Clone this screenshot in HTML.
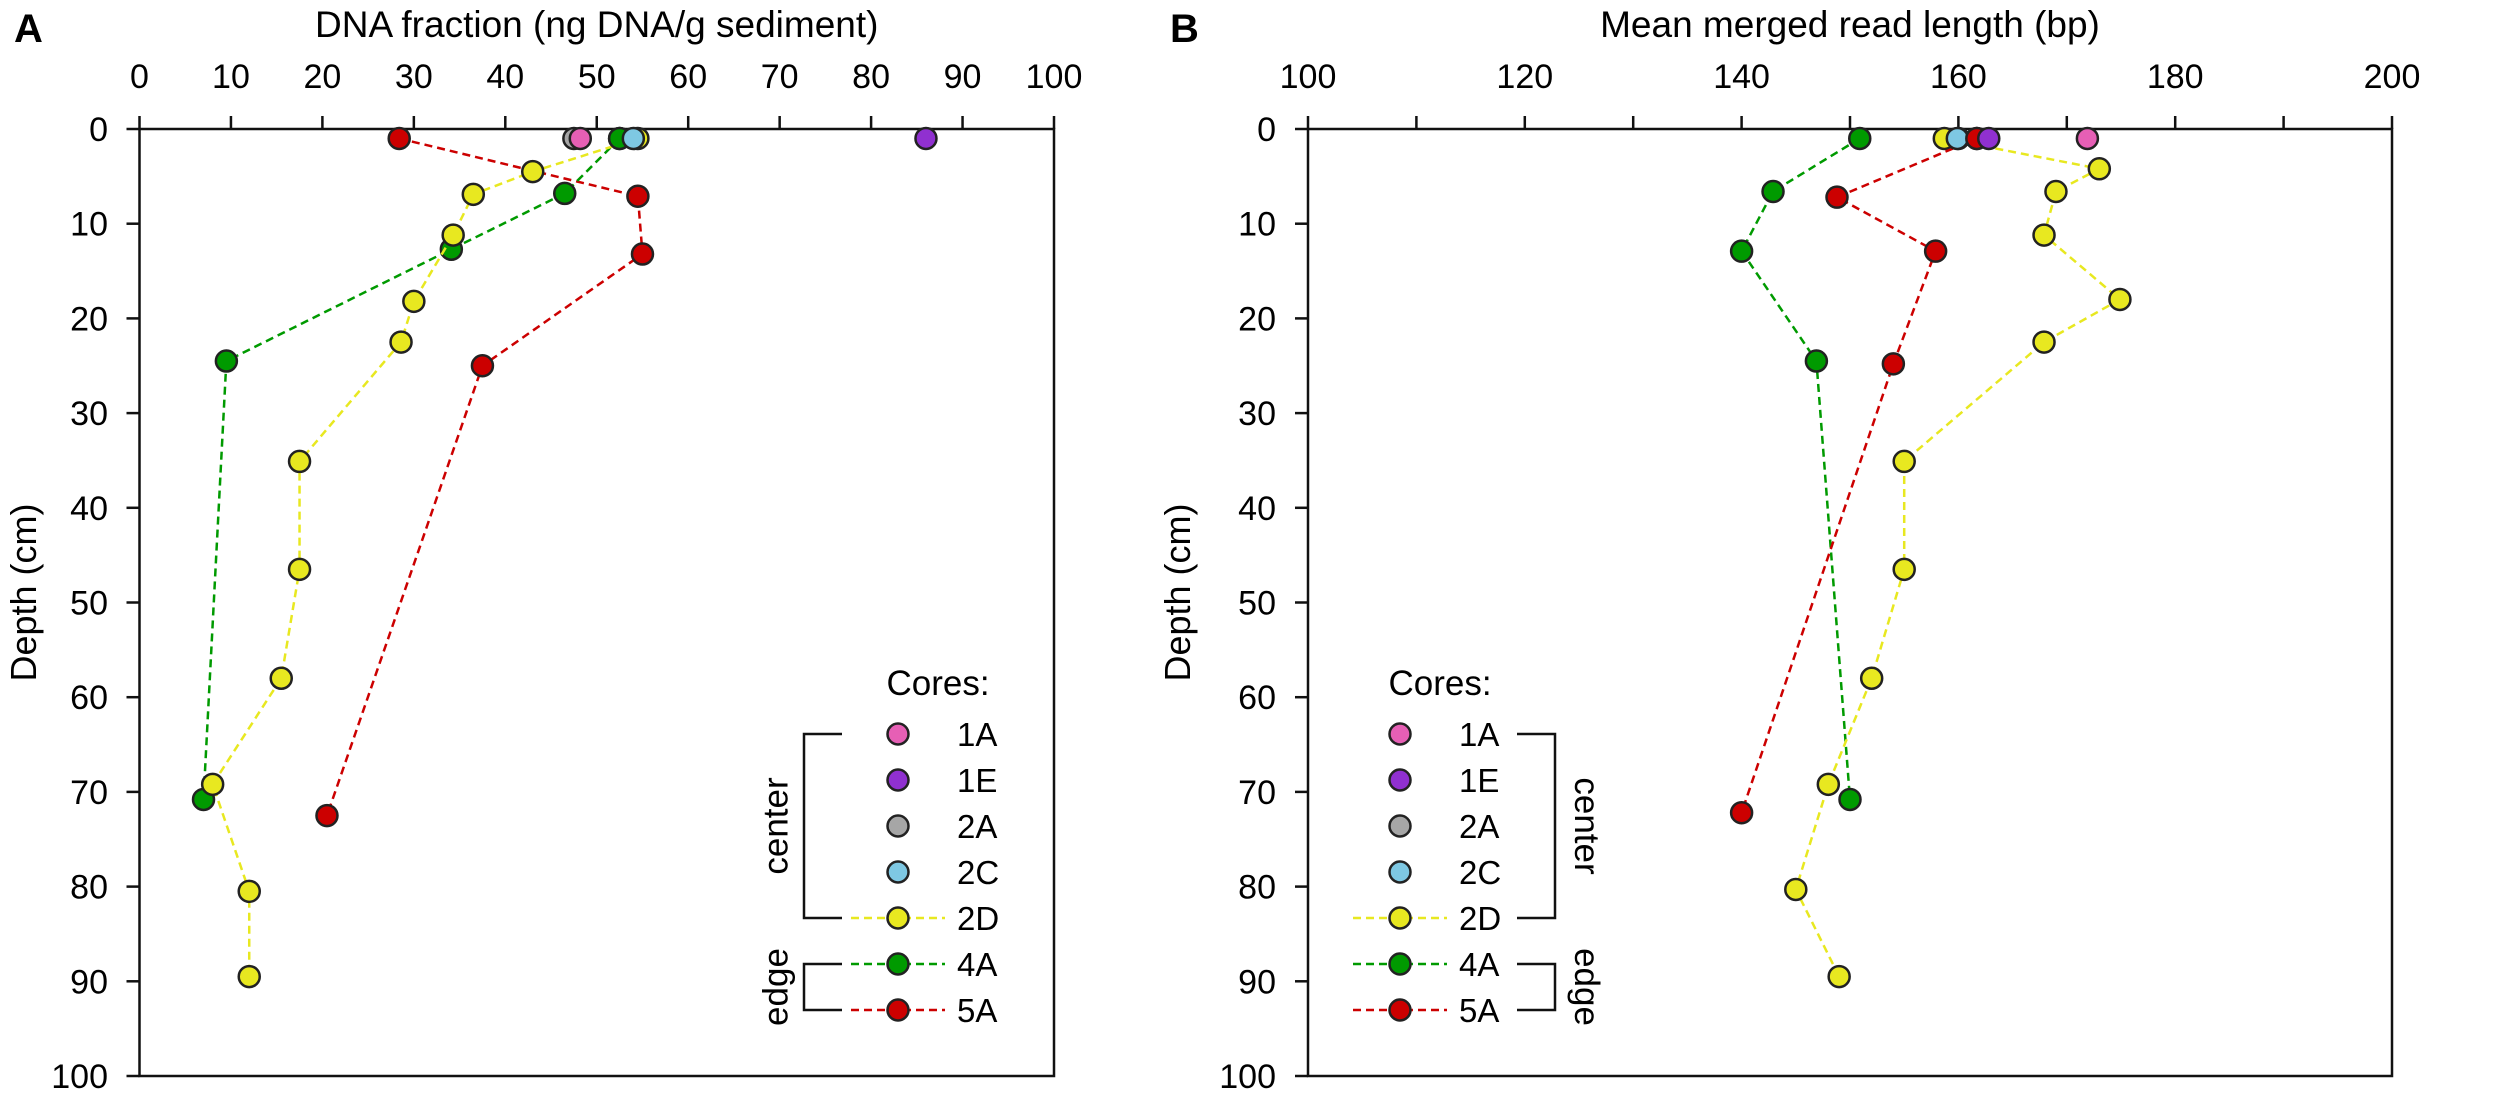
<!DOCTYPE html>
<html><head><meta charset="utf-8"><style>
html,body{margin:0;padding:0;background:#fff;}
svg{display:block;font-family:"Liberation Sans",sans-serif;}
</style></head><body>
<svg id="chart" width="2500" height="1095" viewBox="0 0 2500 1095" xmlns="http://www.w3.org/2000/svg"></svg>
<script>
// ---- data ----
const xTicksA = [0,10,20,30,40,50,60,70,80,90,100];
const xTicksB = [100,120,140,160,180,200];
const yTicks = [0,10,20,30,40,50,60,70,80,90,100];
const coreNames = ["1A","1E","2A","2C","2D","4A","5A"];
const coreColors = ["#e65fb5","#9030d0","#a6a6a6","#7ec8e3","#e8e820","#009a00","#cc0000"];
// Panel A: DNA fraction
const a1A_x=[48.2], a1A_d=[1];
const a1E_x=[86], a1E_d=[1];
const a2A_x=[47.5], a2A_d=[1];
const a2C_x=[54], a2C_d=[1];
const a2D_x=[54.5,43,36.5,34.3,30,28.6,17.5,17.5,15.5,8,12,12];
const a2D_d=[1,4.5,6.9,11.2,18.2,22.5,35.1,46.5,58,69.2,80.5,89.5];
const a4A_x=[52.5,46.5,34.1,9.5,7];
const a4A_d=[1,6.8,12.7,24.5,70.8];
const a5A_x=[28.4,54.5,55,37.5,20.5];
const a5A_d=[1,7.1,13.2,25,72.5];
// Panel B: mean merged read length
const b1A_x=[171.9], b1A_d=[1];
const b1E_x=[162.8], b1E_d=[1];
const b2A_x=[160], b2A_d=[1];
const b2C_x=[159.9], b2C_d=[1];
const b2D_x=[158.7,173,169,167.9,174.9,167.9,155,155,152,148,145,149];
const b2D_d=[1,4.2,6.6,11.2,18,22.5,35.1,46.5,58,69.2,80.3,89.5];
const b4A_x=[150.9,142.9,140,146.9,150];
const b4A_d=[1,6.6,12.9,24.5,70.8];
const b5A_x=[161.7,148.8,157.9,154,140];
const b5A_d=[1,7.2,12.9,24.8,72.2];

const NS="http://www.w3.org/2000/svg";
const svg=document.getElementById('chart');
function mk(tag,attrs,parent){const e=document.createElementNS(NS,tag);for(const k in attrs)e.setAttribute(k,attrs[k]);(parent||svg).appendChild(e);return e;}
function txt(s,attrs,parent){const e=mk('text',attrs,parent);e.textContent=s;return e;}

const Y0=129,Y1=1076;
function yS(d){return Y0+(d-0)/100*(Y1-Y0);}

function panel(id,left,right,xmin,xmax,ticks,minorStep,title,letter,letterX,ylabX,depthX){
  const xS=v=>left+(v-xmin)/(xmax-xmin)*(right-left);
  const g=mk('g',{});
  
  
  const frame=mk('rect',{x:left,y:Y0,width:right-left,height:Y1-Y0,fill:'none',stroke:'#111','stroke-width':2.5},g);
  
  
  for(let v=xmin; v<=xmax+1e-9; v+=minorStep){
    const t=mk('line',{x1:xS(v),x2:xS(v),y1:Y0,y2:Y0-13,stroke:'#111','stroke-width':2.5},g);
    
    
  }
  ticks.forEach(v=>{
    const l=txt(String(v),{x:xS(v),y:88,'font-size':34,'text-anchor':'middle',fill:'#000'},g);
    
    
  });
  yTicks.forEach(v=>{
    const t=mk('line',{x1:left-13,x2:left,y1:yS(v),y2:yS(v),stroke:'#111','stroke-width':2.5},g);
    
    
    const l=txt(String(v),{x:ylabX,y:yS(v)+12,'font-size':34,'text-anchor':'end',fill:'#000'},g);
    
    
  });
  const tt=txt(title,{x:(left+right)/2,y:37,'font-size':37,'text-anchor':'middle',fill:'#000'},g);
  
  
  const yt=txt('Depth (cm)',{x:0,y:0,'font-size':36,'text-anchor':'middle',fill:'#000',transform:`translate(${depthX},${(Y0+Y1)/2-10}) rotate(-90)`},g);
  
  
  const pl=txt(letter,{x:letterX,y:42,'font-size':40,'font-weight':'bold',fill:'#000'},g);
  
  
  return {g,xS};
}
function series(p,xs,ds,color,name,line){
  const sg=mk('g',{},p.g);
  
  
  if(line){
    const pts=xs.map((v,i)=>p.xS(v)+','+yS(ds[i])).join(' ');
    const pl=mk('polyline',{points:pts,fill:'none',stroke:color,'stroke-width':2.5,'stroke-dasharray':'8,5'},sg);
    
    
  }
  xs.forEach((v,i)=>{
    const c=mk('circle',{cx:p.xS(v),cy:yS(ds[i]),r:10.5,fill:color,stroke:'#222','stroke-width':2.5},sg);
    
    
  });
}
function legend(p,mx,tx,side,brX,labX){
  const lg=mk('g',{},p.g);
  
  
  const ct=txt('Cores:',{x:mx+40,y:695,'font-size':35,'text-anchor':'middle',fill:'#000'},lg);
  
  
  const rows=[734,780,826,872,918,964,1010];
  coreNames.forEach((n,i)=>{
    const y=rows[i];
    if(i>=4){
      const l=mk('line',{x1:mx-47,x2:mx+47,y1:y,y2:y,stroke:coreColors[i],'stroke-width':2.5,'stroke-dasharray':'8,5'},lg);
      
      
    }
    const c=mk('circle',{cx:mx,cy:y,r:10.5,fill:coreColors[i],stroke:'#222','stroke-width':2.5},lg);
    
    
    const t=txt(n,{x:tx,y:y+12,'font-size':33,fill:'#000'},lg);
    
    
  });
  const d=side*38;
  const b1=mk('path',{d:`M${brX+d} ${rows[0]} H${brX} V${rows[4]} H${brX+d}`,fill:'none',stroke:'#111','stroke-width':2.5},lg);
  
  
  const b2=mk('path',{d:`M${brX+d} ${rows[5]} H${brX} V${rows[6]} H${brX+d}`,fill:'none',stroke:'#111','stroke-width':2.5},lg);
  
  
  const rot=side>0?-90:90;
  const c1=txt('center',{x:0,y:0,'font-size':35,'text-anchor':'middle',fill:'#000',transform:`translate(${labX},${(rows[0]+rows[4])/2}) rotate(${rot})`,'dominant-baseline':'middle'},lg);
  
  
  const c2=txt('edge',{x:0,y:0,'font-size':35,'text-anchor':'middle',fill:'#000',transform:`translate(${labX},${(rows[5]+rows[6])/2}) rotate(${rot})`,'dominant-baseline':'middle'},lg);
  
  
}

const A=panel('a',139.5,1054,0,100,xTicksA,10,'DNA fraction (ng DNA/g sediment)','A',14,108,36);
legend(A,898,957,1,804,778);
series(A,a5A_x,a5A_d,coreColors[6],'5A',true);
series(A,a4A_x,a4A_d,coreColors[5],'4A',true);
series(A,a2D_x,a2D_d,coreColors[4],'2D',true);
series(A,a2A_x,a2A_d,coreColors[2],'2A',false);
series(A,a1A_x,a1A_d,coreColors[0],'1A',false);
series(A,a4A_x.slice(0,1),a4A_d.slice(0,1),coreColors[5],'4A-top',false);
series(A,a2C_x,a2C_d,coreColors[3],'2C',false);
series(A,a1E_x,a1E_d,coreColors[1],'1E',false);

const B=panel('b',1308,2392,100,200,xTicksB,10,'Mean merged read length (bp)','B',1170,1276,1190);
legend(B,1400,1459,-1,1555,1584);
series(B,b4A_x,b4A_d,coreColors[5],'4A',true);
series(B,b2D_x,b2D_d,coreColors[4],'2D',true);
series(B,b5A_x,b5A_d,coreColors[6],'5A',true);
series(B,b2A_x,b2A_d,coreColors[2],'2A',false);
series(B,b2C_x,b2C_d,coreColors[3],'2C',false);
series(B,b5A_x.slice(0,1),b5A_d.slice(0,1),coreColors[6],'5A-top',false);
series(B,b1E_x,b1E_d,coreColors[1],'1E',false);
series(B,b1A_x,b1A_d,coreColors[0],'1A',false);
</script>
</body></html>
